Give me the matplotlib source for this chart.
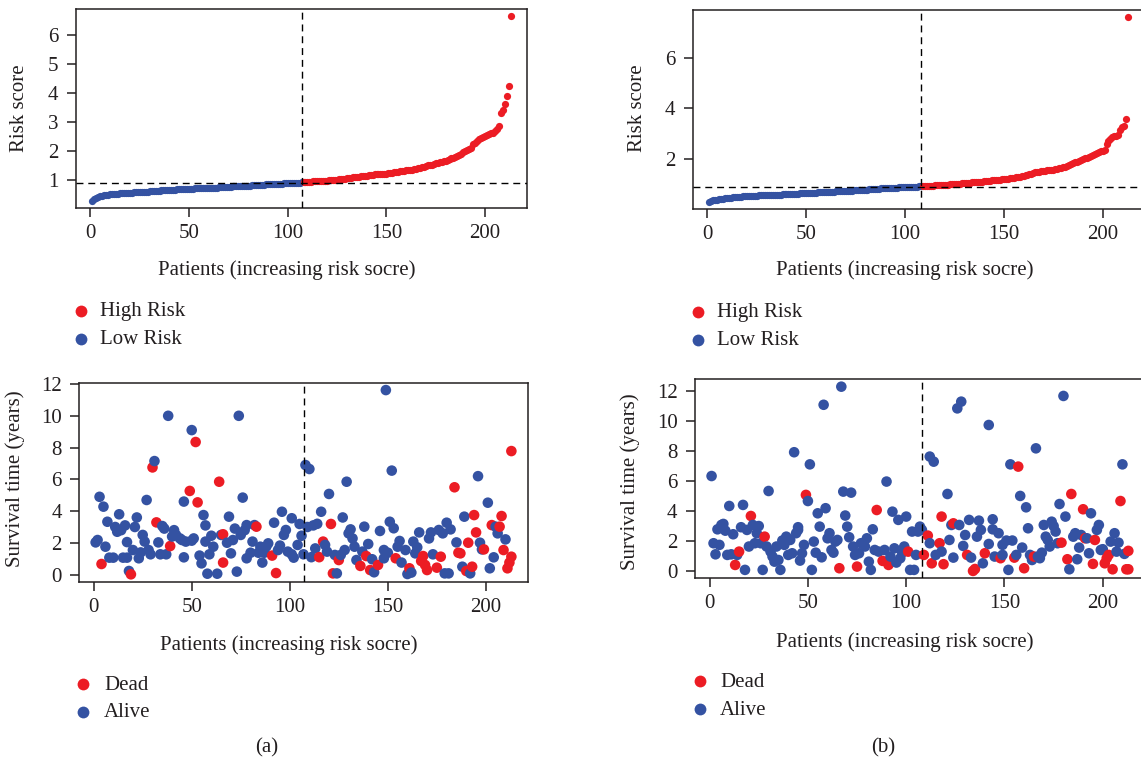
import matplotlib
matplotlib.use("Agg")
import matplotlib.pyplot as plt
from matplotlib.lines import Line2D

plt.rcParams['font.family'] = ['Liberation Serif', 'DejaVu Serif']

RED = '#EC1C24'
BLUE = '#3452A2'
INK = '#231F20'
W, H = 1141, 761

# risk scores of the patients, sorted ascending
risk_a = [
    0.30, 0.34, 0.38, 0.42, 0.45, 0.47, 0.49, 0.50, 0.51, 0.52,
    0.53, 0.53, 0.54, 0.54, 0.55, 0.55, 0.56, 0.56, 0.57, 0.57,
    0.57, 0.58, 0.58, 0.59, 0.59, 0.60, 0.60, 0.61, 0.61, 0.62,
    0.62, 0.63, 0.63, 0.64, 0.64, 0.65, 0.65, 0.66, 0.66, 0.67,
    0.67, 0.68, 0.68, 0.69, 0.69, 0.70, 0.70, 0.70, 0.70, 0.71,
    0.71, 0.71, 0.72, 0.72, 0.72, 0.73, 0.73, 0.73, 0.74, 0.74,
    0.74, 0.75, 0.75, 0.75, 0.76, 0.76, 0.77, 0.77, 0.77, 0.78,
    0.78, 0.79, 0.79, 0.79, 0.80, 0.80, 0.81, 0.81, 0.81, 0.82,
    0.82, 0.83, 0.83, 0.84, 0.84, 0.85, 0.85, 0.85, 0.86, 0.86,
    0.86, 0.87, 0.87, 0.87, 0.88, 0.88, 0.88, 0.89, 0.89, 0.89,
    0.90, 0.90, 0.91, 0.91, 0.92, 0.92, 0.93,
    0.93, 0.94, 0.94, 0.95, 0.95, 0.96, 0.96, 0.97, 0.97, 0.98,
    0.98, 0.99, 0.99, 1.00, 1.00, 1.01, 1.01, 1.02, 1.03, 1.04,
    1.05, 1.06, 1.07, 1.08, 1.09, 1.10, 1.11, 1.12, 1.13, 1.14,
    1.14, 1.15, 1.16, 1.17, 1.18, 1.19, 1.20, 1.20, 1.21, 1.22,
    1.22, 1.23, 1.23, 1.24, 1.25, 1.26, 1.28, 1.29, 1.30, 1.31,
    1.32, 1.33, 1.34, 1.35, 1.36, 1.37, 1.38, 1.40, 1.41, 1.42,
    1.44, 1.46, 1.48, 1.51, 1.53, 1.54, 1.56, 1.58, 1.60, 1.62,
    1.64, 1.66, 1.68, 1.70, 1.73, 1.76, 1.78, 1.81, 1.84, 1.88,
    1.92, 1.96, 2.01, 2.04, 2.07, 2.10, 2.25, 2.30, 2.36, 2.42,
    2.46, 2.49, 2.52, 2.55, 2.58, 2.61, 2.64, 2.68, 2.75, 2.87,
    3.30, 3.42, 3.64, 3.90, 4.25, 6.64,
]
risk_b = [
    0.31, 0.35, 0.37, 0.39, 0.40, 0.42, 0.43, 0.44, 0.45, 0.46,
    0.47, 0.48, 0.49, 0.50, 0.51, 0.52, 0.52, 0.53, 0.53, 0.54,
    0.54, 0.55, 0.55, 0.56, 0.56, 0.57, 0.57, 0.57, 0.58, 0.58,
    0.58, 0.59, 0.59, 0.59, 0.60, 0.60, 0.60, 0.61, 0.61, 0.61,
    0.62, 0.62, 0.63, 0.63, 0.64, 0.64, 0.65, 0.65, 0.66, 0.66,
    0.67, 0.67, 0.68, 0.68, 0.68, 0.69, 0.69, 0.70, 0.70, 0.71,
    0.71, 0.71, 0.72, 0.72, 0.73, 0.73, 0.73, 0.74, 0.74, 0.75,
    0.75, 0.76, 0.76, 0.77, 0.77, 0.78, 0.78, 0.79, 0.79, 0.80,
    0.80, 0.81, 0.81, 0.82, 0.82, 0.83, 0.83, 0.84, 0.84, 0.85,
    0.85, 0.86, 0.86, 0.86, 0.87, 0.87, 0.88, 0.88, 0.88, 0.89,
    0.89, 0.89, 0.90, 0.90, 0.91, 0.91, 0.92, 0.92,
    0.93, 0.93, 0.94, 0.94, 0.95, 0.95, 0.96, 0.96, 0.97, 0.97,
    0.98, 0.98, 0.99, 0.99, 1.00, 1.01, 1.01, 1.02, 1.03, 1.03,
    1.04, 1.05, 1.05, 1.06, 1.07, 1.08, 1.08, 1.09, 1.10, 1.11,
    1.11, 1.12, 1.13, 1.14, 1.15, 1.16, 1.16, 1.17, 1.18, 1.19,
    1.20, 1.21, 1.22, 1.23, 1.24, 1.25, 1.26, 1.28, 1.29, 1.31,
    1.32, 1.34, 1.36, 1.38, 1.40, 1.43, 1.46, 1.48, 1.50, 1.51,
    1.52, 1.54, 1.55, 1.56, 1.57, 1.58, 1.59, 1.60, 1.61, 1.63,
    1.65, 1.67, 1.70, 1.73, 1.76, 1.80, 1.84, 1.87, 1.90, 1.94,
    1.97, 2.00, 2.03, 2.06, 2.10, 2.14, 2.18, 2.22, 2.26, 2.29,
    2.31, 2.33, 2.35, 2.60, 2.70, 2.80, 2.87, 2.90, 2.92, 2.94,
    3.15, 3.25, 3.32, 3.58, 7.61,
]
low_n_a, low_n_b = 107, 108        # patients in the low-risk group
median_a, median_b = 0.92, 0.90    # risk cut-off

# survival time and status (1 = dead), patients ordered by risk score
surv_pat_a = [
    1, 2, 3, 4, 5, 6, 7, 8, 10, 11,
    12, 13, 14, 15, 16, 17, 17, 18, 19, 20,
    21, 22, 23, 24, 25, 26, 27, 28, 29, 30,
    31, 32, 33, 34, 35, 36, 37, 38, 39, 40,
    41, 42, 44, 45, 46, 46, 47, 49, 50, 50,
    51, 52, 53, 54, 55, 56, 57, 57, 58, 59,
    60, 61, 63, 64, 65, 66, 66, 68, 69, 70,
    71, 72, 73, 74, 75, 76, 77, 78, 78, 80,
    81, 82, 83, 84, 85, 86, 87, 88, 89, 91,
    92, 93, 94, 95, 96, 97, 98, 99, 101, 101,
    102, 104, 105, 106, 107, 108, 109, 110, 111, 112,
    113, 114, 115, 116, 117, 118, 119, 120, 121, 122,
    123, 124, 125, 126, 127, 128, 129, 130, 131, 132,
    133, 134, 136, 137, 138, 139, 140, 141, 142, 143,
    145, 146, 148, 148, 149, 150, 151, 152, 153, 154,
    155, 156, 157, 159, 160, 161, 162, 163, 164, 165,
    166, 167, 168, 169, 170, 171, 172, 173, 175, 176,
    177, 178, 179, 180, 181, 182, 184, 185, 186, 187,
    188, 189, 190, 191, 192, 193, 194, 195, 196, 197,
    198, 199, 201, 202, 203, 204, 205, 206, 207, 208,
    209, 210, 211, 212, 213, 213,
]
surv_years_a = [
    2.03, 2.18, 4.90, 0.67, 4.28, 1.76, 3.33, 1.07, 1.07, 3.00,
    2.70, 3.80, 2.80, 1.07, 3.10, 1.07, 2.05, 0.23, 0.02, 1.55,
    3.00, 3.60, 1.03, 1.40, 2.50, 2.08, 4.70, 1.55, 1.28, 6.75,
    7.15, 3.29, 2.03, 1.28, 3.06, 2.90, 1.28, 10.0, 1.80, 2.40,
    2.80, 2.50, 2.28, 2.18, 1.09, 4.60, 2.08, 5.27, 9.10, 2.14,
    2.28, 8.35, 4.55, 1.20, 0.71, 3.75, 3.10, 2.08, 0.06, 1.28,
    2.45, 1.76, 0.06, 5.85, 2.50, 0.76, 2.54, 2.01, 3.65, 1.34,
    2.18, 2.90, 0.19, 10.0, 2.50, 4.85, 2.80, 1.03, 3.12, 1.38,
    2.08, 3.12, 3.02, 1.38, 1.76, 0.76, 1.38, 1.76, 1.97, 1.20,
    3.27, 0.10, 1.55, 1.83, 3.96, 2.50, 2.81, 1.45, 3.55, 1.28,
    1.07, 1.87, 3.19, 2.45, 1.28, 6.90, 3.00, 6.65, 1.10, 3.10,
    1.65, 3.20, 1.10, 3.96, 2.08, 1.87, 1.45, 5.08, 3.19, 0.08,
    1.24, 0.08, 0.92, 1.24, 3.60, 1.55, 5.85, 2.60, 2.85, 2.28,
    1.76, 0.92, 0.55, 1.45, 3.02, 1.17, 1.93, 0.29, 0.97, 0.15,
    0.61, 2.75, 1.03, 1.55, 11.62, 1.38, 3.33, 6.55, 2.92, 1.03,
    1.76, 2.12, 0.76, 1.55, 0.04, 0.40, 0.13, 2.08, 1.34, 1.72,
    2.66, 0.86, 1.17, 0.61, 0.29, 2.28, 2.66, 1.28, 0.44, 2.81,
    1.13, 2.60, 0.08, 3.27, 0.08, 2.85, 5.50, 2.03, 1.38, 1.34,
    0.50, 3.65, 0.23, 2.01, 0.08, 0.50, 3.75, 2.66, 6.20, 2.01,
    1.59, 1.59, 4.53, 0.40, 3.12, 1.09, 3.02, 2.60, 3.02, 3.69,
    1.55, 2.22, 0.40, 0.76, 7.78, 1.13,
]
surv_dead_a = [
    0, 0, 0, 1, 0, 0, 0, 0, 0, 0,
    0, 0, 0, 0, 0, 0, 0, 0, 1, 0,
    0, 0, 0, 0, 0, 0, 0, 0, 0, 1,
    0, 1, 0, 0, 0, 0, 0, 0, 1, 0,
    0, 0, 0, 0, 0, 0, 0, 1, 0, 0,
    0, 1, 1, 0, 0, 0, 0, 0, 0, 0,
    0, 0, 0, 1, 0, 1, 1, 0, 0, 0,
    0, 0, 0, 0, 0, 0, 0, 0, 0, 0,
    0, 0, 1, 0, 0, 0, 0, 0, 0, 1,
    0, 1, 0, 0, 0, 0, 0, 0, 0, 0,
    0, 0, 0, 0, 0, 0, 0, 0, 0, 0,
    0, 0, 1, 0, 1, 0, 0, 0, 1, 1,
    0, 0, 1, 0, 0, 0, 0, 0, 0, 0,
    0, 0, 1, 0, 0, 1, 0, 1, 0, 0,
    1, 0, 0, 0, 0, 0, 0, 0, 0, 1,
    0, 0, 0, 0, 0, 1, 0, 0, 0, 0,
    0, 1, 1, 1, 1, 0, 0, 0, 1, 0,
    1, 0, 0, 0, 0, 0, 1, 0, 1, 1,
    0, 0, 1, 1, 0, 1, 1, 1, 0, 0,
    0, 1, 0, 0, 1, 0, 0, 0, 1, 1,
    1, 0, 1, 1, 1, 1,
]

surv_pat_b = [
    1, 2, 3, 4, 5, 6, 7, 8, 9, 10,
    11, 12, 13, 14, 15, 16, 17, 18, 19, 20,
    21, 22, 23, 24, 25, 26, 27, 28, 29, 30,
    31, 32, 33, 34, 35, 36, 37, 38, 39, 40,
    41, 42, 43, 44, 45, 45, 46, 47, 48, 49,
    50, 51, 52, 53, 54, 55, 56, 57, 58, 59,
    60, 61, 62, 63, 64, 65, 66, 67, 68, 69,
    70, 71, 72, 73, 74, 75, 76, 77, 79, 80,
    81, 82, 83, 84, 85, 86, 88, 89, 90, 91,
    92, 93, 94, 95, 96, 97, 98, 99, 100, 101,
    102, 103, 104, 105, 106, 107, 108, 109, 111, 112,
    112, 113, 114, 115, 117, 118, 118, 119, 121, 122,
    123, 124, 124, 126, 127, 128, 129, 130, 131, 132,
    133, 134, 135, 136, 137, 138, 139, 140, 142, 142,
    144, 144, 145, 147, 148, 149, 149, 151, 152, 153,
    154, 155, 156, 157, 158, 159, 160, 161, 162, 163,
    164, 165, 166, 167, 168, 169, 170, 171, 172, 173,
    174, 175, 176, 177, 178, 179, 180, 181, 182, 183,
    184, 185, 186, 187, 188, 189, 190, 191, 192, 193,
    194, 195, 196, 197, 198, 199, 200, 201, 202, 203,
    204, 205, 206, 207, 208, 209, 210, 211, 212, 213,
    213,
]
surv_years_b = [
    6.34, 1.85, 1.11, 2.78, 1.74, 3.07, 3.14, 2.69, 1.07, 4.34,
    1.11, 2.45, 0.40, 1.07, 1.29, 2.92, 4.41, 0.07, 2.74, 1.63,
    3.67, 3.07, 1.85, 2.52, 3.00, 1.85, 0.07, 2.29, 1.63, 5.34,
    1.29, 0.96, 0.62, 1.63, 0.73, 0.07, 2.03, 1.74, 2.29, 1.07,
    2.07, 1.18, 7.93, 2.52, 2.74, 2.92, 0.69, 1.18, 1.74, 5.08,
    4.67, 7.12, 0.07, 1.96, 1.22, 3.85, 2.96, 0.91, 11.10, 4.19,
    2.18, 2.52, 1.40, 1.22, 1.96, 2.07, 0.18, 12.31, 5.30, 3.70,
    2.96, 2.25, 5.23, 1.63, 1.07, 0.29, 1.18, 1.85, 1.63, 2.18,
    0.62, 0.07, 2.78, 1.40, 4.07, 1.29, 0.67, 1.40, 5.97, 0.40,
    0.96, 3.96, 1.51, 0.56, 3.41, 0.85, 1.22, 1.63, 3.63, 1.29,
    0.07, 2.63, 0.07, 1.07, 2.63, 2.96, 2.74, 1.07, 2.36, 1.85,
    7.64, 0.51, 7.30, 1.07, 1.85, 3.63, 1.29, 0.45, 5.14, 2.07,
    3.07, 0.89, 3.18, 10.86, 3.07, 11.31, 1.67, 2.40, 1.07, 3.41,
    0.89, 0.00, 0.13, 2.29, 3.36, 2.74, 0.51, 1.18, 1.80, 9.75,
    2.78, 3.45, 0.96, 2.52, 0.85, 1.74, 1.07, 2.03, 0.07, 7.12,
    2.03, 0.89, 1.07, 6.97, 5.01, 1.56, 0.18, 4.25, 2.85, 1.07,
    0.73, 0.96, 8.19, 0.96, 0.85, 1.22, 3.07, 2.29, 2.07, 1.63,
    3.29, 3.00, 2.63, 1.85, 4.47, 1.89, 11.69, 3.63, 0.78, 0.11,
    5.14, 2.29, 2.52, 0.78, 1.56, 2.40, 4.12, 2.18, 2.18, 1.18,
    3.85, 0.47, 2.07, 2.74, 3.07, 1.40, 1.45, 0.51, 0.85, 1.07,
    1.96, 0.11, 2.52, 1.29, 1.89, 4.67, 7.12, 1.14, 0.11, 0.11,
    1.34,
]
surv_dead_b = [
    0, 0, 0, 0, 0, 0, 0, 0, 0, 0,
    0, 0, 1, 0, 1, 0, 0, 0, 0, 0,
    1, 0, 0, 0, 0, 0, 0, 1, 0, 0,
    0, 0, 0, 0, 0, 0, 0, 0, 0, 0,
    0, 0, 0, 0, 0, 0, 0, 0, 0, 1,
    0, 0, 0, 0, 0, 0, 0, 0, 0, 0,
    0, 0, 0, 0, 0, 0, 1, 0, 0, 0,
    0, 0, 0, 0, 0, 1, 0, 0, 0, 0,
    0, 0, 0, 0, 1, 0, 1, 0, 0, 1,
    0, 0, 0, 0, 0, 0, 0, 0, 0, 1,
    0, 0, 0, 0, 0, 0, 0, 1, 1, 0,
    0, 1, 0, 0, 1, 1, 0, 1, 0, 0,
    0, 0, 1, 0, 0, 0, 0, 0, 1, 0,
    0, 1, 1, 0, 0, 0, 0, 1, 0, 0,
    0, 0, 0, 0, 1, 0, 0, 0, 0, 0,
    0, 1, 0, 1, 0, 0, 1, 0, 0, 0,
    0, 1, 0, 0, 0, 0, 0, 0, 0, 0,
    0, 0, 0, 0, 0, 1, 0, 0, 1, 0,
    1, 0, 0, 0, 0, 0, 1, 1, 0, 0,
    0, 1, 1, 0, 0, 0, 0, 1, 1, 1,
    0, 1, 0, 0, 0, 1, 0, 0, 1, 1,
    1,
]

x_ticks = [0, 50, 100, 150, 200]
risk_ticks_a = [1, 2, 3, 4, 5, 6]
risk_ticks_b = [2, 4, 6]
surv_ticks = [0, 2, 4, 6, 8, 10, 12]
x_label = 'Patients (increasing risk socre)'

fig = plt.figure(figsize=(W / 100, H / 100), dpi=100)


def px_box(left, top, right, bottom):
    return [left / W, 1 - bottom / H, (right - left) / W, (bottom - top) / H]


def r_lim(lo, hi):
    # base R pads the data range by 4% on each side
    pad = 0.04 * (hi - lo)
    return lo - pad, hi + pad


def dashed(ax, x=None, y=None):
    kw = dict(color='black', lw=1.0, dashes=(5, 3.5), zorder=3)
    if x is not None:
        ax.axvline(x, **kw)
    if y is not None:
        ax.axhline(y, **kw)


def style(ax, n, yticks):
    for sp in ax.spines.values():
        sp.set_linewidth(1.1)
        sp.set_color(INK)
    ax.tick_params(direction='out', length=6.5, width=1.1, color=INK,
                   labelsize=15, labelcolor=INK)
    ax.tick_params(axis='x', pad=5)
    ax.tick_params(axis='y', pad=6)
    ax.set_xticks(x_ticks)
    ax.set_yticks(yticks)
    ax.set_xlim(*r_lim(1, n))


def risk_panel(rect, scores, low_n, cut, yticks):
    ax = fig.add_axes(px_box(*rect))
    pats = list(range(1, len(scores) + 1))
    ax.scatter(pats[:low_n], scores[:low_n], s=27, color=BLUE, lw=0, zorder=2)
    ax.scatter(pats[low_n:], scores[low_n:], s=27, color=RED, lw=0, zorder=2)
    dashed(ax, x=low_n, y=cut)
    style(ax, len(scores), yticks)
    ax.set_ylim(*r_lim(min(scores), max(scores)))
    return ax


def surv_panel(rect, pats, years, dead, low_n, n):
    ax = fig.add_axes(px_box(*rect))
    colors = [RED if d else BLUE for d in dead]
    ax.scatter(pats, years, s=58, c=colors, lw=0, zorder=2)
    dashed(ax, x=low_n)
    style(ax, n, surv_ticks)
    ax.set_ylim(*r_lim(min(years), max(years)))
    return ax


def key(x_mark, x_text, rows):
    for y_mark, y_base, color, label in rows:
        fig.add_artist(Line2D([x_mark / W], [1 - y_mark / H], marker='o',
                              markersize=8.5, color=color, markeredgewidth=0,
                              linestyle='none', transform=fig.transFigure))
        fig.text(x_text / W, 1 - y_base / H, label, ha='left', va='baseline',
                 fontsize=15, color=INK)


def label(x, y, text, rot=0, va='baseline'):
    fig.text(x / W, 1 - y / H, text, ha='center', va=va, rotation=rot,
             fontsize=15, color=INK)


n_a, n_b = len(risk_a), len(risk_b)

risk_panel((75.7, 9, 527.4, 208), risk_a, low_n_a, median_a, risk_ticks_a)
risk_panel((692.7, 9.7, 1145, 209.3), risk_b, low_n_b, median_b, risk_ticks_b)
surv_panel((79, 382.7, 528, 581.7), surv_pat_a, surv_years_a, surv_dead_a, low_n_a, n_a)
surv_panel((694.9, 379.3, 1145, 578.3), surv_pat_b, surv_years_b, surv_dead_b, low_n_b, n_b)

label(287, 275, x_label)
label(905, 275, x_label)
label(289, 650, x_label)
label(905, 647, x_label)

label(20, 108, 'Risk score', rot=90, va='center')
label(638, 108, 'Risk score', rot=90, va='center')
label(15, 479, 'Survival time (years)', rot=90, va='center')
label(630, 482, 'Survival time (years)', rot=90, va='center')

key(81, 100, [(311, 316, RED, 'High Risk'), (339, 344, BLUE, 'Low Risk')])
key(698, 717, [(312, 317, RED, 'High Risk'), (340, 345, BLUE, 'Low Risk')])
key(83, 104, [(684, 690, RED, 'Dead'), (712, 717, BLUE, 'Alive')])
key(700, 720, [(681, 687, RED, 'Dead'), (709, 715, BLUE, 'Alive')])

label(267, 748, '(a)', va='center')
label(883, 748, '(b)', va='center')

fig.savefig('out.png', dpi=100, facecolor='white')
